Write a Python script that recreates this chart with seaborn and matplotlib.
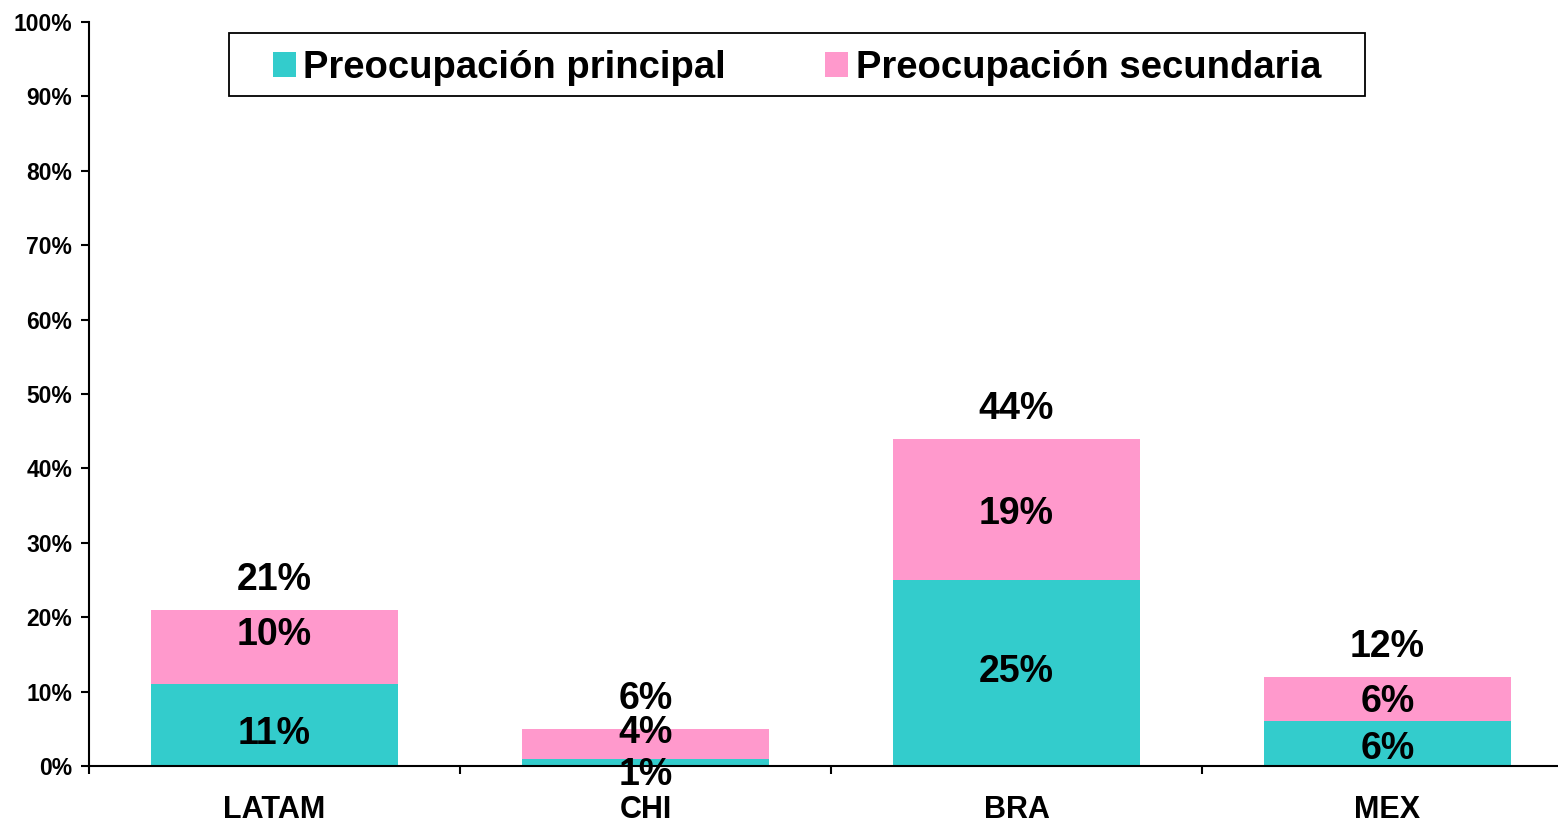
import matplotlib
matplotlib.use("Agg")
import matplotlib.pyplot as plt
from matplotlib.patches import Rectangle, Patch
import seaborn as sns
import pandas as pd

# Survey shares (%) by region
categories = ["LATAM", "CHI", "BRA", "MEX"]
principal = [11, 1, 25, 6]
secundaria = [10, 4, 19, 6]
total_labels = [21, 6, 44, 12]
y_ticks = [0, 10, 20, 30, 40, 50, 60, 70, 80, 90, 100]
series_names = ["Preocupación principal", "Preocupación secundaria"]

TEAL = "#33CCCC"
PINK = "#FF99CC"

sns.set_style("white")
plt.rcParams["font.family"] = ["Liberation Sans", "DejaVu Sans"]
plt.rcParams["font.weight"] = "bold"
for key in ("text.color", "axes.labelcolor", "xtick.color", "ytick.color"):
    plt.rcParams[key] = "black"

W, H = 1558, 825
fig = plt.figure(figsize=(W / 100, H / 100), dpi=100)
# plot area: x from 89px to 1573px (runs past the right edge), y from 22px to 766px
ax = fig.add_axes([89 / W, 1 - 766 / H, (1573 - 89) / W, (766 - 22) / H])

df = pd.DataFrame({
    "region": categories,
    "principal": principal,
    "total": [p + s for p, s in zip(principal, secundaria)],
})

sns.barplot(data=df, x="region", y="total", color=PINK, saturation=1,
            width=0.666, errorbar=None, ax=ax, linewidth=0)
sns.barplot(data=df, x="region", y="principal", color=TEAL, saturation=1,
            width=0.666, errorbar=None, ax=ax, linewidth=0)

ax.set_xlim(-0.5, len(categories) - 0.5)
ax.set_ylim(0, 100)
ax.set_xlabel("")
ax.set_ylabel("")

for side in ("top", "right"):
    ax.spines[side].set_visible(False)
for side in ("left", "bottom"):
    ax.spines[side].set_linewidth(1.5)
    ax.spines[side].set_color("black")

ax.set_yticks(y_ticks)
ax.set_yticklabels([f"{v}%" for v in y_ticks], fontsize=16.5, fontweight="bold",
                   color="black")
ax.tick_params(axis="y", direction="out", length=6, width=1.5, pad=6, left=True,
               color="black")

ax.set_xticks(range(len(categories)))
ax.set_xticklabels(categories, fontsize=22, fontweight="bold", color="black")
ax.tick_params(axis="x", which="major", length=0, pad=21)
ax.set_xticks([i - 0.5 for i in range(len(categories) + 1)], minor=True)
ax.tick_params(axis="x", which="minor", direction="out", length=6, width=1.5,
               bottom=True, color="black")

# label nudges (px, up positive) relative to segment centres
nudge_principal = [-5, -9, 4, -2]
nudge_secundaria = [15, 14, -1, 1]
PX = 0.72  # points per pixel at 100 dpi
CAP = 13.5  # half cap height in px for the data labels
lab_kw = dict(ha="center", va="baseline", fontsize=27, fontweight="bold",
              color="black", textcoords="offset points", annotation_clip=False)

for i, (p, s, t) in enumerate(zip(principal, secundaria, total_labels)):
    ax.annotate(f"{p}%", xy=(i, p / 2),
                xytext=(0, (nudge_principal[i] - CAP) * PX), **lab_kw)
    ax.annotate(f"{s}%", xy=(i, p + s / 2),
                xytext=(0, (nudge_secundaria[i] - CAP) * PX), **lab_kw)
    ax.annotate(f"{t}%", xy=(i, p + s),
                xytext=(0, (33.5 - CAP) * PX), **lab_kw)

handles = [Patch(facecolor=TEAL, edgecolor="none"),
           Patch(facecolor=PINK, edgecolor="none")]
leg = fig.legend(handles, series_names, loc="center",
                 bbox_to_anchor=(797 / W, 1 - 68 / H), ncol=2, frameon=False,
                 prop={"size": 27.5, "weight": "bold"},
                 handlelength=0.6, handleheight=0.6, handletextpad=0.2,
                 columnspacing=2.6)
for txt in leg.get_texts():
    txt.set_color("black")
fig.patches.append(Rectangle((229 / W, 1 - 96 / H), (1365 - 229) / W, 63 / H,
                             transform=fig.transFigure, facecolor="none",
                             edgecolor="black", linewidth=1.3))

fig.savefig("out.png", dpi=100)
